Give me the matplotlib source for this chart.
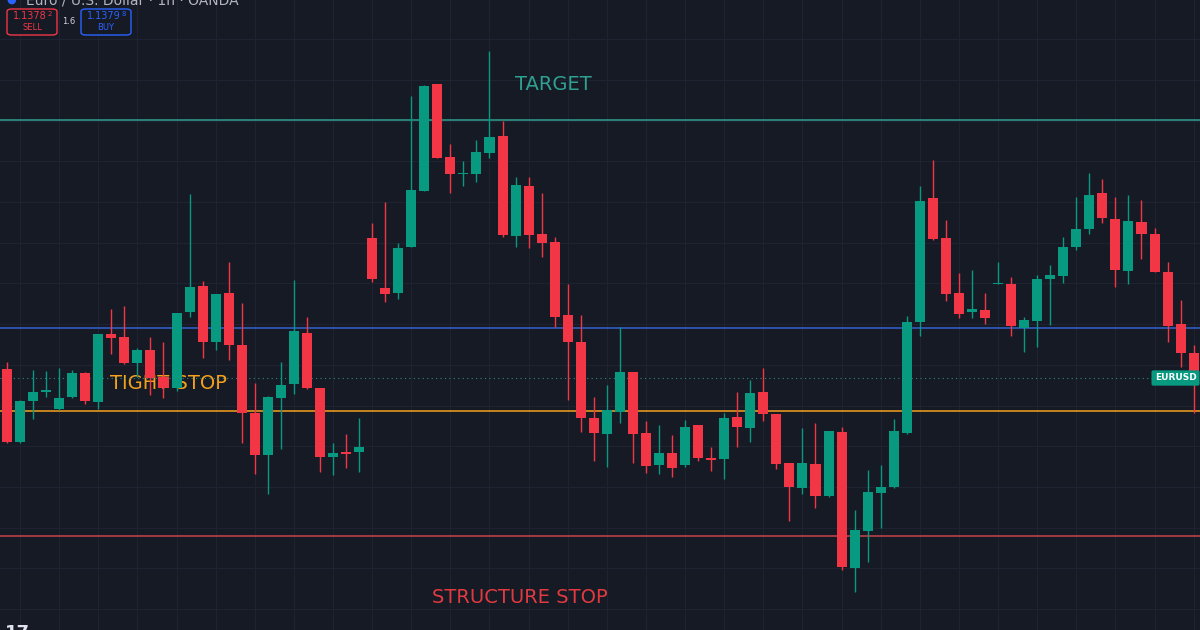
import matplotlib
matplotlib.use("Agg")
import matplotlib.pyplot as plt
import matplotlib.transforms as mtransforms
from matplotlib.patches import FancyBboxPatch
import numpy as np

_BACKGROUND = '#161a25'
_GRID = '#1f2331'
_UP = '#089981'
_DOWN = '#f23645'

# EURUSD 1h candles
opens = [
    1.13798, 1.13652, 1.13734, 1.13752, 1.13718, 1.13742, 1.13790, 1.13732, 1.13868, 1.13862,
    1.13810, 1.13836, 1.13782, 1.13760, 1.13912, 1.13964, 1.13852, 1.13950, 1.13846, 1.13710,
    1.13626, 1.13740, 1.13768, 1.13870, 1.13760, 1.13622, 1.13632, 1.13632, 1.14060, 1.13960,
    1.13950, 1.14042, 1.14154, 1.14368, 1.14222, 1.14188, 1.14188, 1.14230, 1.14264, 1.14064,
    1.14164, 1.14068, 1.14052, 1.13906, 1.13852, 1.13700, 1.13668, 1.13712, 1.13792, 1.13670,
    1.13606, 1.13630, 1.13606, 1.13686, 1.13620, 1.13618, 1.13702, 1.13680, 1.13752, 1.13708,
    1.13610, 1.13560, 1.13608, 1.13544, 1.13672, 1.13400, 1.13474, 1.13550, 1.13562, 1.13670,
    1.13892, 1.14140, 1.14060, 1.13950, 1.13912, 1.13916, 1.13968, 1.13968, 1.13880, 1.13894,
    1.13978, 1.13984, 1.14042, 1.14078, 1.14150, 1.14098, 1.13994, 1.14092, 1.14068, 1.13992,
    1.13888, 1.13830,
]
highs = [
    1.13812, 1.13736, 1.13796, 1.13794, 1.13800, 1.13796, 1.13792, 1.13868, 1.13918, 1.13924,
    1.13840, 1.13862, 1.13852, 1.13910, 1.14148, 1.13974, 1.13948, 1.14012, 1.13930, 1.13770,
    1.13744, 1.13812, 1.13976, 1.13902, 1.13760, 1.13650, 1.13668, 1.13700, 1.14090, 1.14132,
    1.14050, 1.14344, 1.14366, 1.14368, 1.14248, 1.14214, 1.14256, 1.14434, 1.14294, 1.14182,
    1.14182, 1.14150, 1.14062, 1.13968, 1.13906, 1.13742, 1.13766, 1.13882, 1.13792, 1.13694,
    1.13686, 1.13666, 1.13696, 1.13686, 1.13642, 1.13710, 1.13752, 1.13776, 1.13800, 1.13708,
    1.13610, 1.13680, 1.13690, 1.13674, 1.13682, 1.13516, 1.13596, 1.13606, 1.13698, 1.13904,
    1.14164, 1.14216, 1.14096, 1.13990, 1.13996, 1.13950, 1.14012, 1.13982, 1.13902, 1.13986,
    1.14006, 1.14062, 1.14142, 1.14190, 1.14178, 1.14142, 1.14146, 1.14136, 1.14080, 1.14012,
    1.13936, 1.13846,
]
lows = [
    1.13650, 1.13650, 1.13698, 1.13742, 1.13716, 1.13740, 1.13728, 1.13718, 1.13828, 1.13808,
    1.13782, 1.13746, 1.13740, 1.13754, 1.13902, 1.13820, 1.13836, 1.13816, 1.13650, 1.13588,
    1.13548, 1.13638, 1.13748, 1.13758, 1.13592, 1.13586, 1.13600, 1.13592, 1.13972, 1.13932,
    1.13938, 1.14042, 1.14154, 1.14220, 1.14150, 1.14164, 1.14172, 1.14220, 1.14062, 1.14042,
    1.14040, 1.14022, 1.13882, 1.13736, 1.13672, 1.13614, 1.13602, 1.13690, 1.13610, 1.13590,
    1.13588, 1.13582, 1.13602, 1.13614, 1.13594, 1.13578, 1.13642, 1.13652, 1.13694, 1.13598,
    1.13494, 1.13548, 1.13520, 1.13542, 1.13396, 1.13352, 1.13412, 1.13480, 1.13560, 1.13668,
    1.13864, 1.14056, 1.13934, 1.13900, 1.13900, 1.13888, 1.13968, 1.13864, 1.13832, 1.13842,
    1.13886, 1.13970, 1.14036, 1.14068, 1.14090, 1.13962, 1.13968, 1.14018, 1.13992, 1.13852,
    1.13802, 1.13710,
]
closes = [
    1.13652, 1.13734, 1.13752, 1.13754, 1.13740, 1.13790, 1.13734, 1.13868, 1.13860, 1.13810,
    1.13836, 1.13780, 1.13760, 1.13910, 1.13962, 1.13852, 1.13948, 1.13846, 1.13710, 1.13626,
    1.13742, 1.13766, 1.13874, 1.13760, 1.13622, 1.13630, 1.13628, 1.13642, 1.13978, 1.13948,
    1.14040, 1.14156, 1.14364, 1.14220, 1.14188, 1.14190, 1.14232, 1.14262, 1.14066, 1.14166,
    1.14066, 1.14050, 1.13902, 1.13852, 1.13700, 1.13670, 1.13716, 1.13792, 1.13668, 1.13604,
    1.13630, 1.13600, 1.13682, 1.13620, 1.13616, 1.13700, 1.13682, 1.13750, 1.13708, 1.13608,
    1.13562, 1.13610, 1.13544, 1.13674, 1.13402, 1.13476, 1.13552, 1.13562, 1.13674, 1.13892,
    1.14134, 1.14058, 1.13948, 1.13908, 1.13918, 1.13900, 1.13970, 1.13884, 1.13896, 1.13978,
    1.13986, 1.14042, 1.14078, 1.14146, 1.14100, 1.13996, 1.14094, 1.14068, 1.13992, 1.13884,
    1.13830, 1.13780,
]

# Levels drawn on the chart
target_level = 1.14296
entry_level = 1.13880
tight_stop_level = 1.13714
structure_stop_level = 1.13464

sell_price = "1.1378"
sell_pip = "2"
buy_price = "1.1379"
buy_pip = "8"
spread = "1.6"


def _candles(ax):
    o = np.array(opens)
    h = np.array(highs)
    l = np.array(lows)
    c = np.array(closes)
    x = np.arange(len(o))
    up = c >= o
    colors = np.where(up, _UP, _DOWN)

    ax.vlines(x, l, h, colors=colors, linewidth=1.0, zorder=3)
    body = np.maximum(np.abs(c - o), 0.00003)
    bottom = np.minimum(o, c)
    ax.bar(x, body, bottom=bottom, width=0.77, color=colors, linewidth=0, zorder=4)


def _levels(ax):
    ax.axhline(target_level, color='#2e9e90', linewidth=1.1, zorder=2)
    ax.axhline(entry_level, color='#3461d1', linewidth=1.1, zorder=2)
    ax.axhline(tight_stop_level, color='#f5a11c', linewidth=1.1, zorder=2)
    ax.axhline(structure_stop_level, color='#c9434a', linewidth=1.1, zorder=2)
    ax.axhline(closes[-1], color='#2e8b7e', linewidth=0.8, linestyle=(0, (1, 3)), zorder=2)

    ax.text(0.461, 0.866, "TARGET", transform=ax.transAxes, color='#2fa192',
            fontsize=14, ha='center', va='center', zorder=1)
    ax.text(0.140, 0.392, "TIGHT STOP", transform=ax.transAxes, color='#f5a11c',
            fontsize=14, ha='center', va='center', zorder=1)
    ax.text(0.433, 0.051, "STRUCTURE STOP", transform=ax.transAxes, color='#e23a40',
            fontsize=14, ha='center', va='center', zorder=1)

    # last price tag
    trans = mtransforms.blended_transform_factory(ax.transAxes, ax.transData)
    ax.text(0.997, closes[-1], "EURUSD", transform=trans, color='white', fontsize=6.5,
            fontweight='bold', ha='right', va='center', zorder=6,
            bbox=dict(boxstyle='round,pad=0.35,rounding_size=0.2', facecolor=_UP,
                      edgecolor='none'))


def _header(fig):
    # title row, cut off by the top edge like the screenshot
    fig.text(0.022, 1.0, "Euro / U.S. Dollar · 1h · OANDA", color='#b2b5be',
             fontsize=10, ha='left', va='center')
    fig.text(0.005, 1.0, "●", color='#2962ff', fontsize=8, ha='left', va='center')

    for x0, edge, price, pip, label in [(7, '#f23645', sell_price, sell_pip, "SELL"),
                                         (81, '#2962ff', buy_price, buy_pip, "BUY")]:
        box = FancyBboxPatch((x0 / 1200, 1 - 35 / 630), 50 / 1200, 26 / 630,
                             boxstyle='round,pad=0,rounding_size=0.004',
                             transform=fig.transFigure, facecolor=_BACKGROUND,
                             edgecolor=edge, linewidth=1.0)
        fig.patches.append(box)
        fig.text((x0 + 40) / 1200, 1 - 16 / 630, price, color=edge, fontsize=7,
                 ha='right', va='center')
        fig.text((x0 + 40.5) / 1200, 1 - 14 / 630, pip, color=edge, fontsize=5,
                 ha='left', va='center')
        fig.text((x0 + 25) / 1200, 1 - 28 / 630, label, color=edge, fontsize=6,
                 ha='center', va='center')
    fig.text(69 / 1200, 1 - 22 / 630, spread, color='#d1d4dc', fontsize=6,
             ha='center', va='center')

    # logo, cut off by the bottom edge
    fig.text(0.004, -0.004, "17", color='#e0e3eb', fontsize=13, fontweight='bold',
             ha='left', va='center')


if __name__ == "__main__":
    fig = plt.figure(figsize=(12, 6.3), dpi=100, facecolor=_BACKGROUND)
    ax = fig.add_axes([0, 0, 1, 1])
    ax.set_facecolor(_BACKGROUND)

    n = len(opens)
    ax.set_xlim(-0.537, -0.537 + 1200 / 13.04)
    ax.set_ylim(1.13276, 1.14536)

    # grid
    for gx in np.arange(1, n + 1, 3):
        ax.axvline(gx, color=_GRID, linewidth=0.8, zorder=0)
    for gy in 1.14376 - 0.000814 * np.arange(-2, 16):
        ax.axhline(gy, color=_GRID, linewidth=0.8, zorder=0)

    _levels(ax)
    _candles(ax)

    for s in ax.spines.values():
        s.set_visible(False)
    ax.set_xticks([])
    ax.set_yticks([])

    _header(fig)

    fig.savefig("out.png", dpi=100, facecolor=_BACKGROUND)
